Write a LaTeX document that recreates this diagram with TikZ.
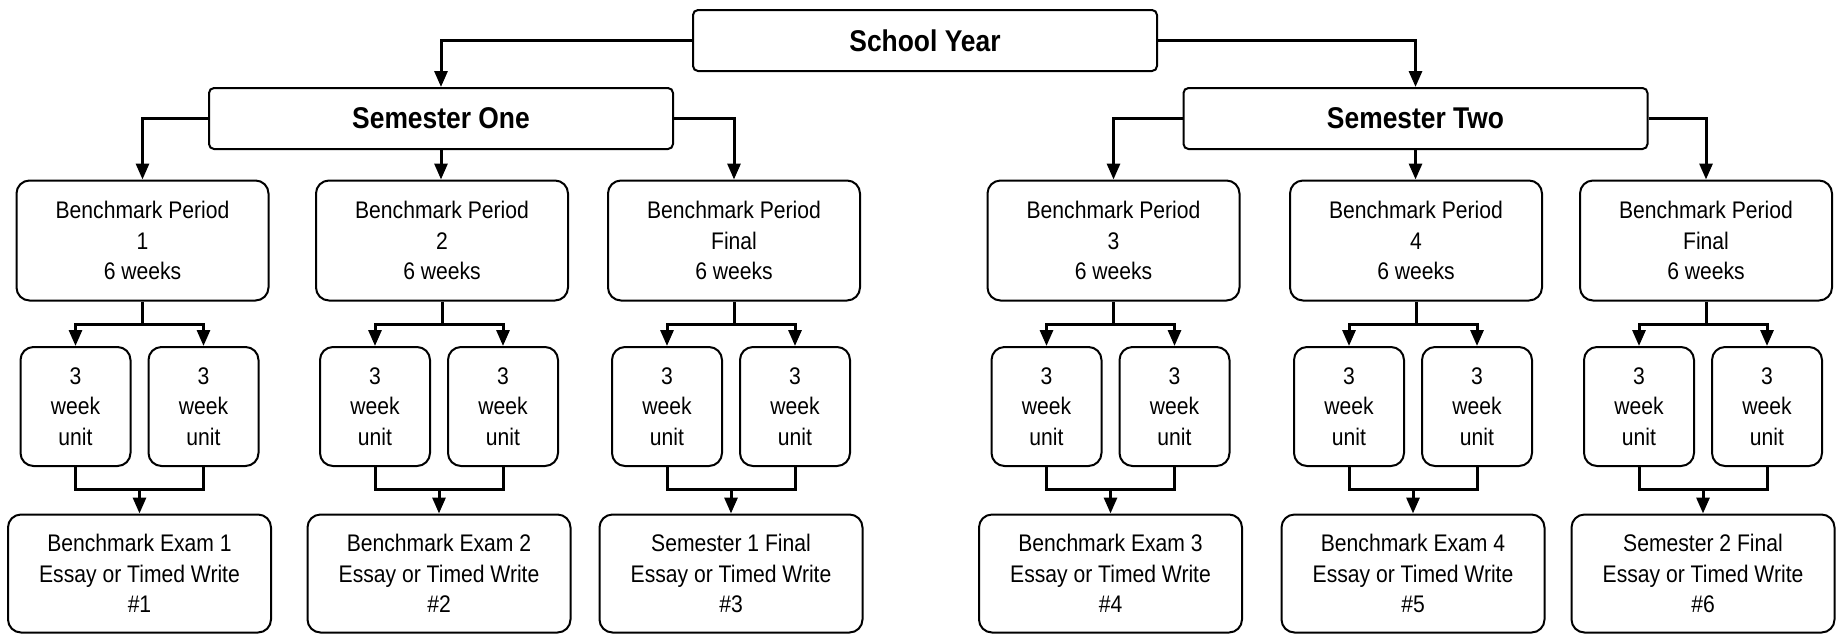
\documentclass[tikz,border=0pt]{standalone}
\usepackage{fontspec}
\setmainfont{Liberation Sans}[FakeStretch=0.88]
\usetikzlibrary{arrows.meta, positioning, calc}
\tikzset{
  yearbox/.style={rectangle, rounded corners=2.5pt, draw=black, line width=1pt,
                  minimum width=232pt, minimum height=30.5pt, inner sep=0pt,
                  font=\fontsize{15}{18}\selectfont\bfseries},
  periodbox/.style={rectangle, rounded corners=6.5pt, draw=black, line width=1pt,
                    minimum width=126pt, minimum height=60pt, inner sep=0pt, align=center,
                    font=\fontsize{12}{15.25}\selectfont},
  unitbox/.style={periodbox, minimum width=55pt, minimum height=59.5pt},
  exambox/.style={periodbox, minimum width=131.5pt, minimum height=59pt},
  link/.style={line width=1.5pt},
  arrow/.style={-{Triangle[length=8pt, width=6.5pt]}, line width=1.5pt},
}
\begin{document}
\begin{tikzpicture}[x=0.5pt, y=-0.5pt]
  \useasboundingbox (0,0) rectangle (1841,634);
  % top levels
  \node[yearbox] (year) at (925,40.5) {School Year};
  \node[yearbox] (sem1) at (441,118.5) {Semester One};
  \node[yearbox] (sem2) at (1415.5,118.5) {Semester Two};
  \draw[arrow] (year.west) -| (sem1.north);
  \draw[arrow] (year.east) -| (sem2.north);
  % benchmark periods, units and exams
  \foreach \x/\n/\per/\ex in {142.5/1/1/Benchmark Exam 1, 442/2/2/Benchmark Exam 2,
      734/3/Final/Semester 1 Final, 1113.5/4/3/Benchmark Exam 3,
      1416/5/4/Benchmark Exam 4, 1706/6/Final/Semester 2 Final} {
    \node[periodbox] (bp\n) at (\x,240.5) {Benchmark Period\\\per\\6 weeks};
    \node[unitbox] (ua\n) at ({\x-67},406.5) {3\\week\\unit};
    \node[unitbox] (ub\n) at ({\x+61},406.5) {3\\week\\unit};
    \node[exambox] (ex\n) at ({\x-3},573.5) {\ex\\Essay or Timed Write\\\#\n};
    \coordinate (sp\n) at (\x,324);
    \coordinate (mg\n) at ({\x-3},489);
    \draw[link] (bp\n.south) -- (sp\n);
    \draw[arrow] (sp\n) -| (ua\n.north);
    \draw[arrow] (sp\n) -| (ub\n.north);
    \draw[link] (ua\n.south) |- (mg\n) -| (ub\n.south);
    \draw[arrow] (mg\n) -- (ex\n.north);
  }
  % semesters to periods
  \foreach \s/\a/\b/\c in {1/1/2/3, 2/4/5/6} {
    \draw[arrow] (sem\s.west) -| (bp\a.north);
    \draw[arrow] (sem\s.south) -- (sem\s.south |- bp\b.north);
    \draw[arrow] (sem\s.east) -| (bp\c.north);
  }
\end{tikzpicture}
\end{document}
